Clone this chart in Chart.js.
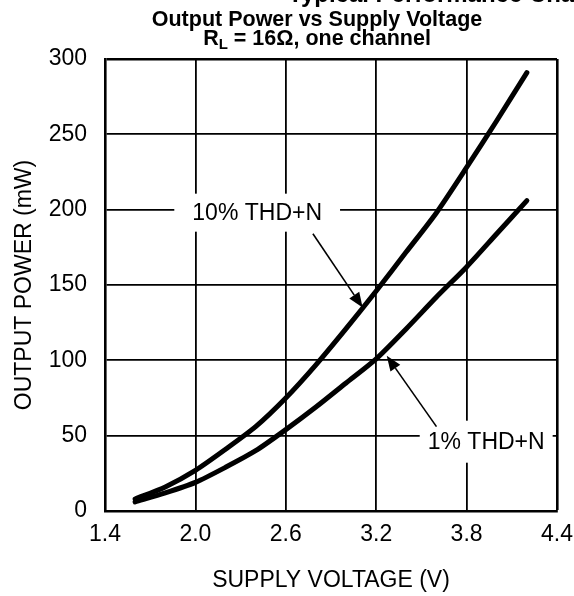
<!DOCTYPE html>
<html>
<head>
<meta charset="utf-8">
<script src="https://cdn.jsdelivr.net/npm/chart.js@4"></script>
<style>
  html, body { margin: 0; padding: 0; background: #fff; }
  #wrap { width: 574px; height: 596px; }
</style>
</head>
<body>
<div id="wrap"><canvas id="powerChart" width="574" height="596"></canvas></div>
<script>
const voltage = [1.6, 1.8, 2.0, 2.2, 2.4, 2.6, 2.8, 3.0, 3.2, 3.4, 3.6, 3.8, 4.0, 4.2];
const power10 = [8, 16, 27, 41, 56, 75, 97, 121, 146, 172, 198, 228, 259, 291];
const power1 = [6, 12, 19, 29, 40, 54, 69, 85, 101, 121, 142, 162, 184, 206];
const xTicks = [1.4, 2.0, 2.6, 3.2, 3.8, 4.4];
const yTicks = [0, 50, 100, 150, 200, 250, 300];

const FONT = '"Liberation Sans", Arial, sans-serif';

// callout labels, placed in data units
const callouts = [
  { text: '10% THD+N', x: 2.41, y: 198, padX: 18, padY: 9, from: [2.78, 184], to: [3.11, 135] },
  { text: '1% THD+N', x: 3.93, y: 46, padX: 8, padY: 11, from: [3.60, 56], to: [3.27, 103] }
];

const toXY = (xs, ys) => xs.map((v, i) => ({ x: v, y: ys[i] }));

const titlePlugin = {
  id: 'titles',
  afterDraw(chart) {
    const c = chart.ctx;
    c.save();
    c.fillStyle = '#000';
    c.textBaseline = 'alphabetic';
    // clipped heading at the very top
    c.font = 'bold 24px ' + FONT;
    c.textAlign = 'left';
    c.fillText('Typical Performance Characteristics', 288, 2);

    c.font = 'bold 21.5px ' + FONT;
    c.textAlign = 'center';
    c.fillText('Output Power vs Supply Voltage', 317, 26);

    // second line with subscript
    const rest = ' = 16\u03A9, one channel';
    c.font = 'bold 21.5px ' + FONT;
    const wR = c.measureText('R').width;
    const wRest = c.measureText(rest).width;
    c.font = 'bold 15px ' + FONT;
    const wL = c.measureText('L').width;
    let x = 317 - (wR + wL + wRest) / 2;
    c.textAlign = 'left';
    c.font = 'bold 21.5px ' + FONT;
    c.fillText('R', x, 45);
    x += wR;
    c.font = 'bold 15px ' + FONT;
    c.fillText('L', x, 49);
    x += wL;
    c.font = 'bold 21.5px ' + FONT;
    c.fillText(rest, x, 45);
    c.restore();
  }
};

const calloutPlugin = {
  id: 'callouts',
  afterDatasetsDraw(chart) {
    const c = chart.ctx;
    const sx = chart.scales.x, sy = chart.scales.y;
    c.save();
    c.font = '23px ' + FONT;
    callouts.forEach(a => {
      const cx = sx.getPixelForValue(a.x);
      const cy = sy.getPixelForValue(a.y);
      const w = c.measureText(a.text).width;
      const h = 20;
      c.fillStyle = '#fff';
      c.fillRect(cx - w / 2 - a.padX, cy - h / 2 - a.padY, w + 2 * a.padX, h + 2 * a.padY);
      c.fillStyle = '#000';
      c.textAlign = 'center';
      c.textBaseline = 'middle';
      c.fillText(a.text, cx, cy + 1);

      // arrow
      const x0 = sx.getPixelForValue(a.from[0]), y0 = sy.getPixelForValue(a.from[1]);
      const x1 = sx.getPixelForValue(a.to[0]), y1 = sy.getPixelForValue(a.to[1]);
      const ang = Math.atan2(y1 - y0, x1 - x0);
      const hl = 15, hw = 6;
      const bx = x1 - hl * Math.cos(ang), by = y1 - hl * Math.sin(ang);
      c.strokeStyle = '#000';
      c.lineWidth = 1.6;
      c.beginPath();
      c.moveTo(x0, y0);
      c.lineTo(bx, by);
      c.stroke();
      c.beginPath();
      c.moveTo(x1, y1);
      c.lineTo(bx + hw * Math.sin(ang), by - hw * Math.cos(ang));
      c.lineTo(bx - hw * Math.sin(ang), by + hw * Math.cos(ang));
      c.closePath();
      c.fill();
    });
    c.restore();
  }
};

const ctx = document.getElementById('powerChart').getContext('2d');
const chart = new Chart(ctx, {
  type: 'scatter',
  data: {
    datasets: [
      { label: '10% THD+N', data: toXY(voltage, power10) },
      { label: '1% THD+N', data: toXY(voltage, power1) }
    ]
  },
  options: {
    responsive: false,
    animation: false,
    showLine: true,
    elements: {
      line: { borderColor: '#000', borderWidth: 5, tension: 0.25, fill: false, borderCapStyle: 'round' },
      point: { radius: 0, hoverRadius: 0 }
    },
    layout: { padding: { top: 59, right: 17, bottom: 0, left: 0 } },
    plugins: {
      legend: { display: false },
      tooltip: { enabled: false }
    },
    scales: {
      x: {
        type: 'linear',
        min: 1.4,
        max: 4.4,
        afterFit(scale) {
          scale.height = 85;
          scale.paddingRight = 0;
          scale.paddingLeft = 0;
        },
        afterBuildTicks(scale) { scale.ticks = xTicks.map(v => ({ value: v })); },
        ticks: {
          color: '#000',
          font: { family: FONT, size: 23 },
          padding: 10,
          maxRotation: 0,
          callback: v => Number(v).toFixed(1)
        },
        grid: {
          color: '#000',
          lineWidth: c => (c.index === xTicks.length - 1 ? 2.6 : 1.8),
          drawTicks: false
        },
        border: { color: '#000', width: 2.6 },
        title: {
          display: true,
          text: 'SUPPLY VOLTAGE (V)',
          color: '#000',
          font: { family: FONT, size: 23 },
          padding: { top: 0, bottom: 2 }
        }
      },
      y: {
        min: 0,
        max: 300,
        afterFit(scale) {
          scale.width = 105;
          scale.paddingTop = 0;
          scale.paddingBottom = 0;
        },
        afterBuildTicks(scale) { scale.ticks = yTicks.map(v => ({ value: v })); },
        ticks: {
          color: '#000',
          font: { family: FONT, size: 23 },
          padding: 18
        },
        grid: {
          color: '#000',
          lineWidth: c => (c.index === yTicks.length - 1 ? 2.6 : 1.8),
          drawTicks: false
        },
        border: { color: '#000', width: 2.6 },
        title: {
          display: true,
          text: 'OUTPUT POWER (mW)',
          color: '#000',
          font: { family: FONT, size: 23 },
          padding: { top: 11, bottom: 0 }
        }
      }
    }
  },
  plugins: [titlePlugin, calloutPlugin]
});
</script>
</body>
</html>
